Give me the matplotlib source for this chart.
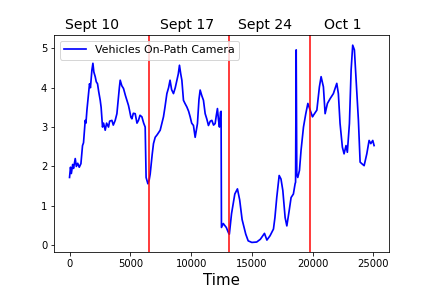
import matplotlib
matplotlib.use("Agg")
import matplotlib.pyplot as plt
import matplotlib.transforms as mtransforms

# values
time = [0, 80, 150, 260, 330, 469, 560, 675, 800, 937, 1000, 1069, 1150, 1291, 1350,
        1431, 1520, 1645, 1720, 1842, 1924, 2000, 2113, 2200, 2303, 2400, 2525, 2600,
        2714, 2800, 2936, 3050, 3207, 3300, 3487, 3600, 3758, 3898, 4030, 4100, 4169,
        4300, 4441, 4600, 4720, 4850, 4934, 5050, 5132, 5250, 5403, 5550, 5674, 5800,
        5954, 6100, 6225, 6300, 6447, 6550, 6637, 6800, 6908, 7048, 7200, 7459, 7600,
        7730, 7850, 8010, 8150, 8271, 8400, 8553, 8700, 8832, 8950, 9046, 9150, 9243,
        9375, 9500, 9655, 9800, 9926, 10050, 10197, 10337, 10450, 10526, 10650, 10748,
        10880, 11020, 11160, 11300, 11431, 11580, 11711, 11850, 11982, 12080, 12171,
        12250, 12336, 12420, 12470, 12500, 12650, 12900, 13100, 13150, 13330, 13600,
        13816, 14000, 14200, 14500, 14700, 15000, 15400, 15700, 16040, 16240, 16500,
        16780, 16900, 17050, 17250, 17400, 17550, 17740, 17880, 18070, 18230, 18420,
        18560, 18600, 18650, 18700, 18780, 18920, 19050, 19250, 19440, 19610, 19800,
        19990, 20070, 20350, 20560, 20700, 20890, 21030, 21220, 21440, 21710, 21990,
        22120, 22260, 22450, 22590, 22750, 22860, 23030, 23170, 23300, 23440, 23630,
        23770, 23910, 24050, 24240, 24460, 24650, 24790, 24950, 25060]
vehicles = [1.72, 1.98, 1.82, 2.05, 1.95, 2.2, 2.0, 2.08, 1.98, 2.07, 2.3, 2.53, 2.6, 3.17,
            3.1, 3.43, 3.7, 4.1, 4.0, 4.45, 4.62, 4.4, 4.28, 4.15, 4.1, 3.9, 3.68, 3.5,
            3.0, 3.1, 2.92, 3.1, 3.0, 3.15, 3.17, 3.05, 3.17, 3.34, 3.77, 4.0, 4.19,
            4.05, 3.98, 3.8, 3.68, 3.55, 3.43, 3.25, 3.21, 3.35, 3.34, 3.1, 3.17, 3.3,
            3.26, 3.1, 3.0, 1.72, 1.56, 1.65, 1.81, 2.3, 2.58, 2.74, 2.8, 2.92, 3.1,
            3.26, 3.5, 3.85, 4.0, 4.19, 3.95, 3.85, 4.0, 4.19, 4.35, 4.57, 4.35, 4.19,
            3.68, 3.6, 3.51, 3.4, 3.26, 3.1, 3.04, 2.74, 2.95, 3.09, 3.7, 3.94,
            3.8, 3.68, 3.34, 3.2, 3.04, 3.15, 3.17, 3.05, 3.09, 3.3, 3.47,
            3.2, 3.0, 3.38, 3.4, 0.45, 0.55, 0.45, 0.3, 0.28, 0.8, 1.3,
            1.43, 1.15, 0.65, 0.28, 0.11, 0.07, 0.08, 0.15, 0.3, 0.13, 0.24,
            0.41, 0.7, 1.21, 1.77, 1.68, 1.39, 0.7, 0.49, 0.87, 1.21, 1.3,
            1.56, 1.6, 4.96, 1.8, 1.72, 1.9, 2.41, 3.0, 3.34, 3.6, 3.43,
            3.26, 3.3, 3.43, 4.02, 4.28, 4.02, 3.34, 3.6, 3.72, 3.85, 4.11,
            3.85, 3.09, 2.49, 2.32, 2.53, 2.36, 3.09, 4.45, 5.08, 4.96, 3.94,
            3.17, 2.11, 2.07, 2.02, 2.32, 2.66, 2.58, 2.66, 2.53]

week_breaks = [6550, 13150, 19770]
week_labels = ["Sept 10", "Sept 17", "Sept 24", "Oct 1"]
label_x = [-354, 7484, 13898, 20970]

fig = plt.figure(figsize=(6, 4), dpi=72)
ax = fig.add_subplot(111)
fig.subplots_adjust(left=0.1257, right=0.9012, top=0.8774, bottom=0.124)

ax.plot(time, vehicles, color='b', linewidth=1.7, label='Vehicles On-Path Camera')
for b in week_breaks:
    ax.axvline(b, color='r')

trans = mtransforms.blended_transform_factory(ax.transData, ax.transAxes)
for lx, lab in zip(label_x, week_labels):
    ax.text(lx, 1.0276, lab, transform=trans, fontsize=14, ha='left', va='baseline')

ax.set_xlabel('Time', fontsize=15)
ax.legend(loc='upper left', fontsize=11)

fig.savefig('out.png', dpi=72)
